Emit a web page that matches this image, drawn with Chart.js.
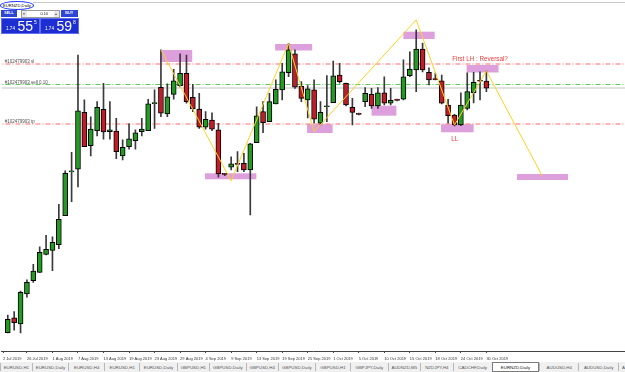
<!DOCTYPE html>
<html>
<head>
<meta charset="utf-8">
<script src="https://cdn.jsdelivr.net/npm/chart.js@4.4.1/dist/chart.umd.min.js"></script>
<style>
html,body{margin:0;padding:0;background:#fff;}
body{width:625px;height:372px;position:relative;overflow:hidden;font-family:"Liberation Sans",Arial,sans-serif;}
#wrap{position:absolute;left:0;top:0;width:625px;height:362px;}
#topline{position:absolute;left:33px;top:2px;width:592px;height:1px;background:#c8c8c8;}
#oval{position:absolute;left:0px;top:1px;width:32px;height:7px;border:1px solid #1f3cff;border-radius:50%;}
#sym{position:absolute;left:3px;top:2.5px;font-size:4.2px;line-height:5px;color:#111;white-space:nowrap;}
.btn{position:absolute;top:10px;height:7px;background:#2d46d6;color:#fff;font-size:3.8px;line-height:7px;text-align:center;font-weight:bold;}
#lot{position:absolute;left:20.5px;top:10px;width:37px;height:6px;background:#fff;border:1px solid #9a9a9a;font-size:3.8px;line-height:6px;color:#111;}
#lot .a{position:absolute;top:0;width:5px;height:6px;background:#e8e8e8;text-align:center;font-size:3px;color:#333;}
.pbox{position:absolute;top:17.5px;width:36.5px;height:14px;background:#1d2fd2;border:0.5px solid #5f6ff0;color:#fff;}
.pbox .s{position:absolute;left:4px;top:7.5px;font-size:4.6px;line-height:5px;}
.pbox .b{position:absolute;left:15.5px;top:0.5px;font-size:14px;line-height:14px;}
.pbox .u{position:absolute;left:32px;top:1.5px;font-size:5px;line-height:5px;}
#tabs{position:absolute;left:0;top:362px;width:625px;height:10px;background:#f0f0f0;overflow:hidden;}
.tab{position:absolute;top:1px;height:8px;font-size:4.4px;line-height:9px;color:#555;text-align:center;white-space:nowrap;border-left:1px solid #b8b8b8;box-sizing:border-box;}
.tab.act{background:#fff;border:1px solid #7a7a7a;color:#111;top:0px;height:10px;line-height:9px;}
</style>
</head>
<body>
<div id="wrap"><canvas id="c" width="625" height="362"></canvas></div>
<div id="topline"></div>
<div id="oval"></div>
<div id="sym">EURNZD,Daily</div>
<div class="btn" style="left:1px;width:16px;">SELL</div>
<div id="lot"><div class="a" style="left:0">&#9660;</div><span style="position:absolute;left:19px;">0.10</span><div class="a" style="right:0">&#9650;</div></div>
<div class="btn" style="left:61px;width:16.5px;">BUY</div>
<div class="pbox" style="left:1px;"><span class="s">1.74</span><span class="b">55</span><span class="u">5</span></div>
<div class="pbox" style="left:40px;"><span class="s">1.74</span><span class="b">59</span><span class="u">8</span></div>
<div id="tabs"></div>
<script>
// ---- data (EURNZD daily) ----
const opens = [
1.6599,1.6651,1.6630,1.6735,1.6781,1.6810,1.6873,1.6887,1.6907,1.7009,
1.7162,1.7171,1.7370,1.7254,1.7306,1.7381,1.7303,1.7305,1.7218,1.7250,
1.7271,1.7303,1.7306,1.7401,1.7458,1.7365,1.7433,1.7464,1.7507,1.7423,
1.7382,1.7318,1.7343,1.7309,1.7155,1.7178,1.7190,1.7192,1.7169,1.7264,
1.7373,1.7338,1.7400,1.7449,1.7509,1.7575,1.7461,1.7414,1.7449,1.7332,
1.7390,1.7404,1.7501,1.7472,1.7388,1.7367,1.7408,1.7433,1.7393,1.7439,
1.7402,1.7415,1.7416,1.7499,1.7519,1.7592,1.7510,1.7487,1.7481,1.7396,
1.7361,1.7326,1.7384,1.7439,1.7480,1.7480];
const highs = [
1.6661,1.6673,1.6745,1.6784,1.6838,1.6900,1.6940,1.6935,1.7048,1.7166,
1.7230,1.7571,1.7414,1.7355,1.7408,1.7472,1.7408,1.7349,1.7274,1.7330,
1.7309,1.7349,1.7416,1.7449,1.7589,1.7470,1.7521,1.7575,1.7571,1.7468,
1.7437,1.7373,1.7369,1.7332,1.7157,1.7215,1.7233,1.7227,1.7262,1.7390,
1.7408,1.7437,1.7484,1.7542,1.7612,1.7589,1.7478,1.7464,1.7484,1.7408,
1.7499,1.7550,1.7542,1.7473,1.7419,1.7368,1.7457,1.7454,1.7457,1.7495,
1.7454,1.7417,1.7554,1.7582,1.7659,1.7613,1.7526,1.7508,1.7501,1.7416,
1.7363,1.7439,1.7509,1.7510,1.7512,1.7515];
const lows = [
1.6598,1.6608,1.6598,1.6723,1.6775,1.6810,1.6871,1.6816,1.6893,1.7009,
1.7058,1.7109,1.7250,1.7218,1.7288,1.7276,1.7276,1.7208,1.7204,1.7241,
1.7241,1.7288,1.7306,1.7314,1.7355,1.7355,1.7416,1.7459,1.7402,1.7373,
1.7314,1.7311,1.7306,1.7143,1.7149,1.7169,1.7163,1.7163,1.7011,1.7264,
1.7299,1.7338,1.7400,1.7414,1.7495,1.7454,1.7408,1.7351,1.7332,1.7326,
1.7338,1.7404,1.7472,1.7393,1.7326,1.7361,1.7390,1.7384,1.7384,1.7396,
1.7396,1.7410,1.7414,1.7495,1.7443,1.7512,1.7466,1.7484,1.7400,1.7332,
1.7323,1.7324,1.7379,1.7403,1.7414,1.7443];
const closes = [
1.6646,1.6634,1.6740,1.6775,1.6815,1.6880,1.6891,1.6915,1.6996,1.7157,
1.7163,1.7376,1.7250,1.7312,1.7388,1.7302,1.7309,1.7233,1.7248,1.7278,
1.7299,1.7312,1.7400,1.7403,1.7367,1.7425,1.7481,1.7507,1.7408,1.7382,
1.7318,1.7346,1.7311,1.7155,1.7153,1.7190,1.7188,1.7169,1.7260,1.7358,
1.7334,1.7408,1.7451,1.7512,1.7589,1.7458,1.7419,1.7453,1.7346,1.7370,
1.7391,1.7498,1.7478,1.7396,1.7370,1.7363,1.7437,1.7393,1.7439,1.7402,
1.7412,1.7412,1.7495,1.7522,1.7592,1.7519,1.7484,1.7485,1.7402,1.7359,
1.7326,1.7396,1.7443,1.7475,1.7479,1.7455];

// time-axis labels (bar index where each label starts)
const tickPos  = [-0.75,3,7,11,15,19,23,27,31,35,39,43,47,51,55,59,63,67,71,75];
const tickText = ['2 Jul 2019','26 Jul 2019','1 Aug 2019','7 Aug 2019','13 Aug 2019','19 Aug 2019','23 Aug 2019','29 Aug 2019','4 Sep 2019','9 Sep 2019','13 Sep 2019','19 Sep 2019','25 Sep 2019','1 Oct 2019','5 Oct 2019','10 Oct 2019','15 Oct 2019','18 Oct 2019','24 Oct 2019','30 Oct 2019'];

// order lines
const slLevel = 1.75395;
const entryLevel = 1.74678;
const bidLevel = 1.74555;
const tpLevel = 1.73295;
const orderTag = '#102479903';

// zig-zag swing line (bar index, price)
const swingX = [24, 35, 44, 48, 64, 70, 75, 83.75];
const swingY = [1.75885, 1.7131, 1.7611, 1.7303, 1.7694, 1.7326, 1.7515, 1.7148];

// supply / demand zones (bar index from-to, price top-bottom)
const zoneFrom   = [23.9, 30.9, 41.9, 46.9, 57.0, 62.0, 67.9, 71.9, 79.8];
const zoneTo     = [28.9, 38.95, 47.7, 50.9, 60.9, 66.9, 73.0, 76.9, 87.8];
const zoneTop    = [1.75885, 1.71570, 1.76095, 1.73285, 1.73935, 1.76526, 1.73285, 1.75360, 1.71545];
const zoneBottom = [1.75465, 1.71360, 1.75868, 1.72980, 1.73586, 1.76270, 1.73005, 1.75098, 1.71335];

// text notes
const noteText = ['First LH : Reversal?', 'LL'];
const noteX = [69.64, 69.48];
const noteY = [1.75553, 1.72753];

// symbol tabs
const tabNames = ['EURUSD,H1','EURUSD,Daily','EURUSD,H4','EURUSD,H1','EURUSD,Daily','GBPUSD,H1','GBPUSD,Daily','GBPUSD,H4','GBPUSD,Daily','GBPUSD,H1','GBPJPY,Daily','AUDNZD,M5','NZDJPY,H4','CADCHF,Daily','EURNZD,Daily','AUDUSD,H4','AUDUSD,Daily','AU'];
const activeTab = 14;

// ---- tabs (UI strip) ----
const tabEdges = [0,31.7,68.3,104,139.3,176.7,209,245.7,277.7,315,350,387.7,420,452.7,491.7,539.3,578.3,618,645];
const tabsEl = document.getElementById('tabs');
tabNames.forEach((t,k)=>{
  const d = document.createElement('div');
  d.className = 'tab' + (k===activeTab ? ' act' : '');
  d.style.left = tabEdges[k] + 'px';
  d.style.width = (tabEdges[k+1]-tabEdges[k]) + 'px';
  if (k === tabNames.length-1) { d.style.textAlign='left'; d.style.paddingLeft='3px'; }
  d.textContent = t;
  tabsEl.appendChild(d);
});

// ---- chart ----
const GREEN = '#249a24', RED = '#bf1e28';
const bodyColors = opens.map((o,i)=> closes[i] >= o ? GREEN : RED);
const X_MIN = -0.9375, X_MAX = 96.72;

const overlay = {
  id: 'overlay',
  beforeDatasetsDraw(chart) {
    const {ctx, scales:{x, y}} = chart;
    ctx.save();
    ctx.fillStyle = '#dda0dd';
    for (let k = 0; k < zoneFrom.length; k++) {
      const x0 = x.getPixelForValue(zoneFrom[k]), x1 = x.getPixelForValue(zoneTo[k]);
      const y0 = y.getPixelForValue(zoneTop[k]), y1 = y.getPixelForValue(zoneBottom[k]);
      ctx.fillRect(x0, y0, x1 - x0, y1 - y0);
    }
    ctx.restore();
  },
  afterDatasetsDraw(chart) {
    const {ctx, chartArea, scales:{x, y}} = chart;
    ctx.save();
    ctx.font = '4.5px "Liberation Sans", Arial, sans-serif';
    ctx.fillStyle = '#505050';
    ctx.textBaseline = 'alphabetic';
    ctx.textAlign = 'left';
    const L = chartArea.left + 3;
    ctx.fillText(orderTag + ' sl', L, y.getPixelForValue(slLevel) - 1);
    ctx.fillText(orderTag + ' sell 0.10', L, y.getPixelForValue(entryLevel) - 0.5);
    ctx.fillText(orderTag + ' tp', L, y.getPixelForValue(tpLevel) - 1);
    ctx.font = '6.3px "Liberation Sans", Arial, sans-serif';
    ctx.fillStyle = '#f03c3c';
    ctx.textBaseline = 'middle';
    for (let k = 0; k < noteText.length; k++) {
      ctx.fillText(noteText[k], x.getPixelForValue(noteX[k]), y.getPixelForValue(noteY[k]));
    }
    ctx.restore();
  }
};

const hline = (lvl, color, dash) => ({
  type: 'line',
  data: [{x: X_MIN - 1, y: lvl}, {x: X_MAX + 1, y: lvl}],
  borderColor: color, borderWidth: 1, borderDash: dash,
  pointRadius: 0, tension: 0, fill: false
});

new Chart(document.getElementById('c'), {
  type: 'bar',
  data: {
    datasets: [
      { type: 'line', data: swingX.map((v,i)=>({x: v, y: swingY[i]})),
        borderColor: '#ffd21e', borderWidth: 1, pointRadius: 0, tension: 0, fill: false },
      { label: 'body', data: opens.map((o,i)=>({x: i, y: [o, closes[i]]})),
        backgroundColor: bodyColors, borderColor: '#000', borderWidth: 1, borderSkipped: false,
        barThickness: 5, minBarLength: 1, grouped: false },
      { label: 'wick', data: lows.map((l,i)=>({x: i, y: [l, highs[i]]})),
        backgroundColor: '#3a3a3a', borderWidth: 0, barThickness: 1, grouped: false },
      hline(bidLevel, '#c4c4c4', []),
      hline(entryLevel, '#5cc85c', [5,2,1,2]),
      hline(slLevel, '#ff6a6a', [5,2,1,2]),
      hline(tpLevel, '#ff6a6a', [5,2,1,2])
    ]
  },
  options: {
    responsive: false,
    animation: false,
    devicePixelRatio: 1,
    layout: { padding: 0 },
    plugins: { legend: { display: false }, tooltip: { enabled: false } },
    scales: {
      x: {
        type: 'linear', min: X_MIN, max: X_MAX, offset: false,
        afterBuildTicks: (s) => { s.ticks = tickPos.map(v => ({value: v})); },
        afterFit: (s) => { s.height = 11; },
        ticks: {
          autoSkip: false, maxRotation: 0, minRotation: 0, align: 'start', padding: 3,
          color: '#333', font: { size: 4, family: '"Liberation Sans", Arial, sans-serif' },
          callback: (v, i) => tickText[i]
        },
        grid: { display: true, drawOnChartArea: false, drawTicks: true, tickLength: 2, color: '#444', offset: false },
        border: { display: true, color: '#444', width: 1 }
      },
      y: { display: false, min: 1.6535, max: 1.77635 }
    }
  },
  plugins: [overlay]
});
</script>
</body>
</html>
